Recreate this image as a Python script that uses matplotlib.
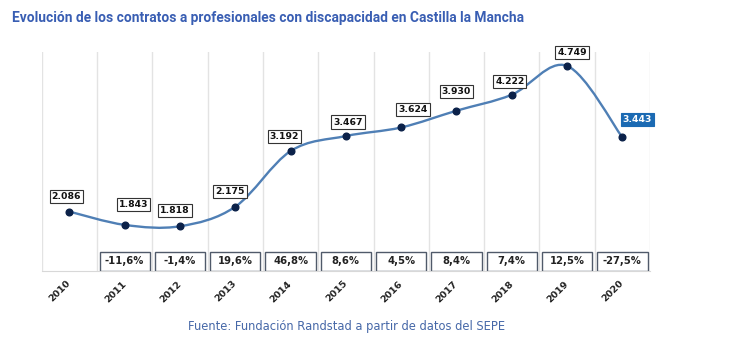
import matplotlib
matplotlib.use('Agg')
import matplotlib.pyplot as plt
from matplotlib.path import Path
from matplotlib.patches import PathPatch, Rectangle
from matplotlib.transforms import blended_transform_factory

# -------------------------------------------------------------------------------------
# Data
years = ['2010', '2011', '2012', '2013', '2014', '2015',
         '2016', '2017', '2018', '2019', '2020']
contracts = [2086, 1843, 1818, 2175, 3192, 3467, 3624, 3930, 4222, 4749, 3443]
value_labels = ['2.086', '1.843', '1.818', '2.175', '3.192', '3.467',
                '3.624', '3.930', '4.222', '4.749', '3.443']
change_labels = ['', '-11,6%', '-1,4%', '19,6%', '46,8%', '8,6%',
                 '4,5%', '8,4%', '7,4%', '12,5%', '-27,5%']

title = 'Evolución de los contratos a profesionales con discapacidad en Castilla la Mancha'
source = 'Fuente: Fundación Randstad a partir de datos del SEPE'

# Label offsets (pixels) as placed in the original chart
label_offsets = [(-3, 15), (9, 20), (-5, 16), (-5, 15), (-6, 15), (2, 14),
                 (12, 18), (0, 19), (-2, 13), (5, 13), (15, 18)]

# Style
sLineColor = '#4f7fb5'
sMarkerColor = '#0b2149'
sTitleColor = '#395eb3'
sGridColor = '#e3e3e3'
sBoxEdge = '#505a6a'
# -------------------------------------------------------------------------------------


# -------------------------------------------------------------------------------------
# Smooth path (Catmull-Rom as cubic Bezier segments)
def smoothPath(a1dX, a1dY):
    aPts = list(zip(a1dX, a1dY))
    aVerts = [aPts[0]]
    aCodes = [Path.MOVETO]
    iN = len(aPts)
    for i in range(iN - 1):
        p0 = aPts[max(i - 1, 0)]
        p1 = aPts[i]
        p2 = aPts[i + 1]
        p3 = aPts[min(i + 2, iN - 1)]
        c1 = (p1[0] + (p2[0] - p0[0]) / 6., p1[1] + (p2[1] - p0[1]) / 6.)
        c2 = (p2[0] - (p3[0] - p1[0]) / 6., p2[1] - (p3[1] - p1[1]) / 6.)
        aVerts += [c1, c2, p2]
        aCodes += [Path.CURVE4] * 3
    return Path(aVerts, aCodes)
# -------------------------------------------------------------------------------------


fig = plt.figure(figsize=(7.32, 3.49), dpi=100)
ax = fig.add_axes([0.057, 0.2235, 0.831, 0.627])

a1iX = list(range(len(years)))

ax.set_xlim(-0.5, len(years) - 0.5)
ax.set_ylim(1000, 5000)

# Vertical grid at category boundaries
for dX in [i - 0.5 for i in range(len(years) + 1)]:
    ax.axvline(dX, color=sGridColor, lw=1, zorder=0)

for sSide in ['top', 'left', 'right']:
    ax.spines[sSide].set_visible(False)
ax.spines['bottom'].set_color('#d8d8d8')
ax.set_yticks([])

ax.set_xticks(a1iX)
ax.set_xticklabels(years, rotation=45, ha='right', va='center',
                   rotation_mode='anchor', fontsize=6.8,
                   fontweight='bold', color='#222222')
ax.tick_params(axis='x', length=0, pad=8)

# Line and markers
ax.add_patch(PathPatch(smoothPath(a1iX, contracts), fill=False,
                       ec=sLineColor, lw=1.7, zorder=2))
ax.plot(a1iX, contracts, 'o', color=sMarkerColor, ms=4.8, zorder=3)

# Value labels
for i, (dV, sL) in enumerate(zip(contracts, value_labels)):
    bLast = (i == len(contracts) - 1)
    ax.annotate(sL, (a1iX[i], dV), xytext=label_offsets[i],
                textcoords='offset pixels', ha='center', va='center',
                fontsize=6.7, fontweight='bold',
                color='white' if bLast else '#111111',
                bbox=dict(boxstyle='square,pad=0.22',
                          fc='#1b6ab3' if bLast else 'white',
                          ec='#1b6ab3' if bLast else '#333333', lw=0.8),
                zorder=5)

# Yearly change boxes
oTrans = blended_transform_factory(ax.transData, ax.transAxes)
for i, sC in enumerate(change_labels):
    if not sC:
        continue
    ax.add_patch(Rectangle((a1iX[i] - 0.455, 0.0), 0.91, 0.088, transform=oTrans,
                           fc='white', ec=sBoxEdge, lw=1, zorder=4))
    ax.text(a1iX[i], 0.044, sC, transform=oTrans, ha='center', va='center',
            fontsize=7.2, fontweight='bold', color='#222222', zorder=5)

fig.text(0.016, 0.948, title, ha='left', va='center', fontsize=9.9,
         fontweight='bold', color=sTitleColor, family=['Roboto', 'DejaVu Sans'])
fig.text(0.474, 0.064, source, ha='center', va='center', fontsize=8.3,
         color='#4668a8')

fig.savefig('out.png', dpi=100)
